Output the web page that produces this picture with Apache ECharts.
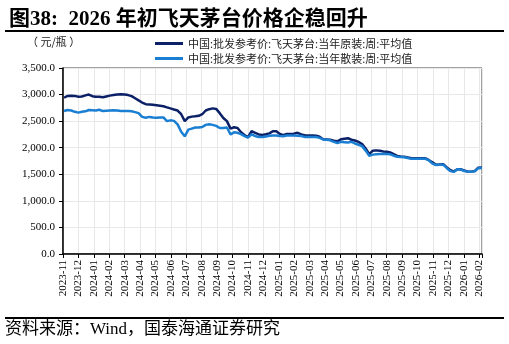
<!DOCTYPE html>
<html>
<head>
<meta charset="utf-8">
<script src="https://cdn.jsdelivr.net/npm/echarts@6/dist/echarts.min.js"></script>
<style>
  html, body { margin: 0; padding: 0; background: #fff; }
  #chart { width: 509px; height: 344px; }
</style>
</head>
<body>
<div id="chart"></div>
<script>
// 月份刻度
let months = ['2023-11', '2023-12', '2024-01', '2024-02', '2024-03', '2024-04', '2024-05',
    '2024-06', '2024-07', '2024-08', '2024-09', '2024-10', '2024-11', '2024-12',
    '2025-01', '2025-02', '2025-03', '2025-04', '2025-05', '2025-06', '2025-07',
    '2025-08', '2025-09', '2025-10', '2025-11', '2025-12', '2026-01', '2026-02']
// 周度数据起始日
let startDate = '2023-11-03'
let seriesNames = ['中国:批发参考价:飞天茅台:当年原装:周:平均值', '中国:批发参考价:飞天茅台:当年散装:周:平均值']
// 当年原装
let yuanZhuang = [
    2940, 2975, 2980, 2975, 2960, 2965, 2985, 3000, 2970, 2960,
    2960, 2950, 2965, 2980, 2990, 3000, 3005, 3000, 2990, 2970,
    2930, 2890, 2850, 2820, 2815, 2810, 2800, 2790, 2780, 2760,
    2740, 2720, 2700, 2630, 2500, 2570, 2585, 2590, 2600, 2630,
    2700, 2725, 2740, 2730, 2650, 2560, 2500, 2360, 2385, 2370,
    2290, 2240, 2200, 2310, 2280, 2250, 2240, 2255, 2270, 2310,
    2310, 2260, 2235, 2260, 2260, 2265, 2280, 2250, 2230, 2230,
    2230, 2225, 2205, 2160, 2155, 2150, 2130, 2120, 2160, 2170,
    2180, 2150, 2135, 2110, 2070, 1985, 1880, 1945, 1950, 1945,
    1930, 1925, 1910, 1880, 1845, 1835, 1830, 1815, 1800, 1800,
    1800, 1800, 1800, 1765, 1725, 1680, 1685, 1690, 1630, 1575,
    1555, 1595, 1595, 1570, 1550, 1550, 1560, 1625, 1630
]
// 当年散装
let sanZhuang = [
    2690, 2710, 2700, 2675, 2660, 2675, 2685, 2710, 2705, 2700,
    2715, 2690, 2695, 2700, 2705, 2700, 2690, 2690, 2690, 2685,
    2670, 2650, 2580, 2565, 2580, 2570, 2565, 2570, 2570, 2500,
    2515, 2505, 2440, 2300, 2215, 2340, 2360, 2380, 2380, 2390,
    2430, 2440, 2430, 2410, 2370, 2370, 2380, 2250, 2290, 2280,
    2255, 2220, 2190, 2250, 2220, 2200, 2200, 2210, 2225, 2230,
    2230, 2220, 2215, 2230, 2230, 2230, 2225, 2220, 2200, 2200,
    2200, 2200, 2185, 2155, 2150, 2140, 2110, 2090, 2110, 2105,
    2100, 2110, 2080, 2055, 2030, 1945, 1850, 1870, 1875, 1880,
    1880, 1880, 1875, 1850, 1830, 1825, 1820, 1805, 1790, 1790,
    1790, 1790, 1790, 1760, 1700, 1675, 1680, 1680, 1615, 1560,
    1545, 1595, 1590, 1560, 1550, 1550, 1555, 1615, 1620
]

// 日期 -> 以2023-11为0的月份位置
function monthPos(d) {
    let y = d.getUTCFullYear(), m = d.getUTCMonth()
    let days = new Date(Date.UTC(y, m + 1, 0)).getUTCDate()
    return (y - 2023) * 12 + m - 10 + (d.getUTCDate() - 1) / days
}
function toPoints(vals) {
    let t0 = Date.parse(startDate + 'T00:00:00Z')
    return vals.map((v, i) => [monthPos(new Date(t0 + i * 7 * 86400000)), v])
}

let serif = '"Liberation Serif", "Times New Roman", "Noto Sans CJK SC", serif'
let chart = echarts.init(document.getElementById('chart'), null, { renderer: 'canvas' })
let option = {
    animation: false,
    backgroundColor: '#fff',
    title: {
        text: '图38:  2026 年初飞天茅台价格企稳回升',
        left: 4,
        top: 4,
        textStyle: { fontFamily: serif, fontSize: 21, fontWeight: 'bold', color: '#000' }
    },
    graphic: [
        { type: 'rect', shape: { x: 5, y: 30, width: 499, height: 2 }, style: { fill: '#000' } },
        { type: 'rect', shape: { x: 5, y: 317, width: 499, height: 2 }, style: { fill: '#000' } },
        { type: 'text', left: 27, top: 36, style: { text: '（ 元/瓶 ）', font: '11px "Noto Sans CJK SC"', fill: '#222' } },
        { type: 'text', left: 5, top: 321, style: { text: '资料来源：Wind，国泰海通证券研究', font: '17px "Liberation Serif", "Noto Sans CJK SC"', fill: '#000' } }
    ],
    legend: {
        orient: 'vertical',
        left: 150,
        top: 33,
        itemWidth: 28,
        itemHeight: 3,
        itemGap: 4,
        icon: 'rect',
        data: seriesNames,
        textStyle: { fontFamily: '"Noto Sans CJK SC"', fontSize: 11, color: '#222' }
    },
    grid: {
        left: 63,
        right: 27,
        top: 68,
        bottom: 90,
        show: true,
        borderColor: '#444',
        borderWidth: 1
    },
    xAxis: {
        type: 'value',
        min: 0,
        max: 27.18,
        interval: 1,
        axisLine: { lineStyle: { color: '#000', width: 1.5 } },
        axisTick: { show: true, length: 4, lineStyle: { color: '#000' } },
        splitLine: { show: true, lineStyle: { color: '#e8e8e8' } },
        axisLabel: {
            rotate: 90,
            margin: 6,
            fontFamily: serif,
            fontSize: 11,
            color: '#000',
            formatter: v => Number.isInteger(v) && months[v] ? months[v] : ''
        }
    },
    yAxis: {
        type: 'value',
        min: 0,
        max: 3500,
        interval: 500,
        axisLine: { show: true, lineStyle: { color: '#000', width: 1.5 } },
        axisTick: { show: true, length: 4, lineStyle: { color: '#000' } },
        splitLine: { show: true, lineStyle: { color: '#e8e8e8' } },
        axisLabel: {
            margin: 8,
            fontFamily: serif,
            fontSize: 11,
            color: '#000',
            formatter: v => v.toLocaleString('en-US', { minimumFractionDigits: 1, maximumFractionDigits: 1 })
        }
    },
    series: [{
        name: seriesNames[0],
        type: 'line',
        data: toPoints(yuanZhuang),
        showSymbol: false,
        color: '#0b2066',
        lineStyle: { width: 2.5, color: '#0b2066' }
    }, {
        name: seriesNames[1],
        type: 'line',
        data: toPoints(sanZhuang),
        showSymbol: false,
        color: '#1a7fd2',
        lineStyle: { width: 2.5, color: '#1a7fd2' }
    }]
}
chart.setOption(option)
</script>
</body>
</html>
